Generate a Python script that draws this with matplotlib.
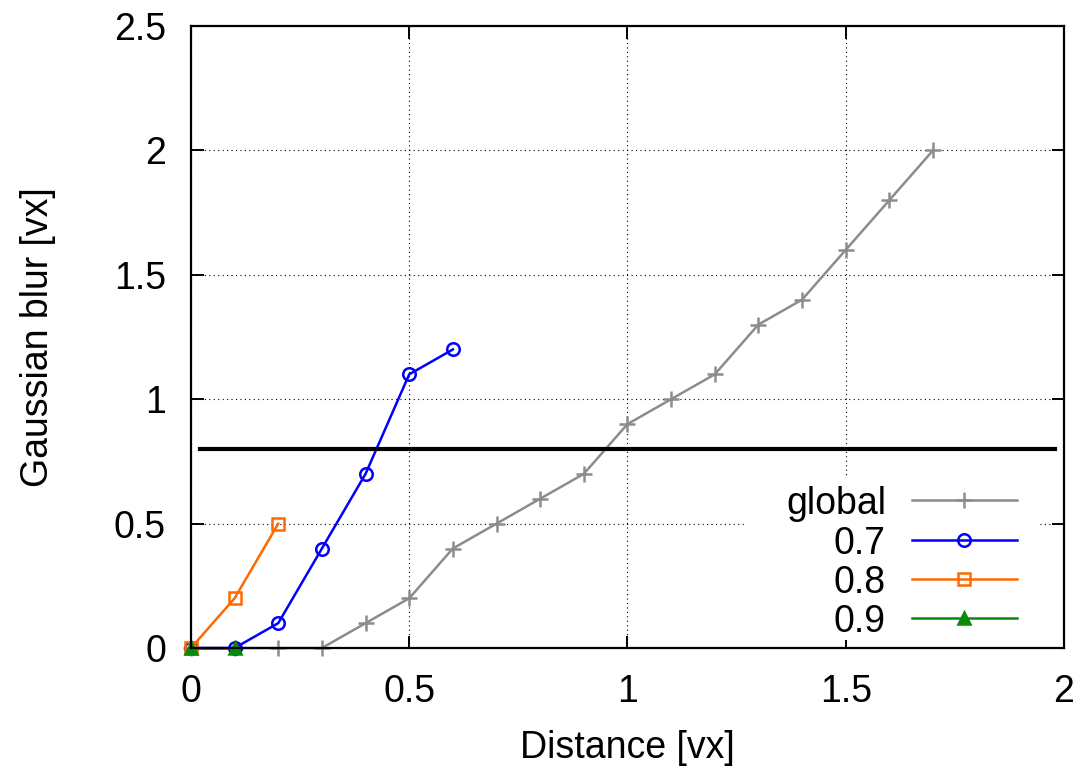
import matplotlib
matplotlib.use("Agg")
import matplotlib.pyplot as plt
from matplotlib.lines import Line2D
from matplotlib.patches import Rectangle

plt.rcParams['font.family'] = ['Liberation Sans', 'DejaVu Sans']

# blur needed per distance, for each threshold
dist_global = [0, 0.1, 0.2, 0.3, 0.4, 0.5, 0.6, 0.7, 0.8, 0.9, 1.0, 1.1, 1.2, 1.3, 1.4, 1.5, 1.6, 1.7]
blur_global = [0, 0, 0, 0, 0.1, 0.2, 0.4, 0.5, 0.6, 0.7, 0.9, 1.0, 1.1, 1.3, 1.4, 1.6, 1.8, 2.0]

dist_07 = [0, 0.1, 0.2, 0.3, 0.4, 0.5, 0.6]
blur_07 = [0, 0, 0.1, 0.4, 0.7, 1.1, 1.2]

dist_08 = [0, 0.1, 0.2]
blur_08 = [0, 0.2, 0.5]

dist_09 = [0, 0.1]
blur_09 = [0, 0]

limit_x = [0.02, 1.98]
limit_y = [0.8, 0.8]

labels = ["global", "0.7", "0.8", "0.9"]
colors = ["#8c8c8c", "#0000ff", "#ff6a00", "#0a8a0a"]
markers = ["+", "o", "s", "^"]
FS = 27

fig = plt.figure(figsize=(10.85, 7.69), dpi=100)
ax = fig.add_axes([0.176, 0.1573, 0.8046, 0.8089])

def mstyle(c, m):
    return dict(marker=m, ms=11 if m == "+" else 9, mew=1.8,
                mfc=c if m == "^" else "none", mec=c)

series = [(dist_global, blur_global), (dist_07, blur_07), (dist_08, blur_08), (dist_09, blur_09)]
for (xs, ys), c, m in zip(series, colors, markers):
    ax.plot(xs, ys, color=c, lw=1.8, clip_on=False, zorder=3, **mstyle(c, m))

ax.plot(limit_x, limit_y, color="black", lw=3, zorder=3)

ax.set_xlim(0, 2)
ax.set_ylim(0, 2.5)
ax.set_xticks([0, 0.5, 1, 1.5, 2])
ax.set_xticklabels(["0", "0.5", "1", "1.5", "2"])
ax.set_yticks([0, 0.5, 1, 1.5, 2, 2.5])
ax.set_yticklabels(["0", "0.5", "1", "1.5", "2", "2.5"])
ax.tick_params(direction="in", length=9, width=1.4, labelsize=FS, top=True, right=True)
ax.tick_params(axis="x", pad=19)
ax.tick_params(axis="y", pad=18)
ax.grid(True, color="black", lw=0.8, ls=(0, (1, 3)))
for s in ax.spines.values():
    s.set_linewidth(1.6)
    s.set_zorder(4)

ax.set_xlabel("Distance [vx]", fontsize=FS, labelpad=14)
ax.set_ylabel("Gaussian blur [vx]", fontsize=FS, labelpad=42)

# key box, drawn in axes fraction
def fx(px):
    return (px - 191) / 873.0

def fy(py):
    return (648 - py) / 622.0

ax.add_patch(Rectangle((fx(745), fy(640)), fx(1040) - fx(745), fy(476) - fy(640),
                       transform=ax.transAxes, facecolor="white", edgecolor="none", zorder=2.5))
rows = [500, 540, 579, 618]
for lab, c, m, py in zip(labels, colors, markers, rows):
    ax.text(fx(886), fy(py), lab, transform=ax.transAxes, ha="right", va="center_baseline",
            fontsize=FS, zorder=5)
    ax.add_line(Line2D([fx(912), fx(1017)], [fy(py), fy(py)], transform=ax.transAxes,
                       color=c, lw=1.8, zorder=5))
    ax.add_line(Line2D([fx(964)], [fy(py)], transform=ax.transAxes, color=c, lw=0,
                       zorder=5, **mstyle(c, m)))

fig.savefig("out.png", dpi=100)
